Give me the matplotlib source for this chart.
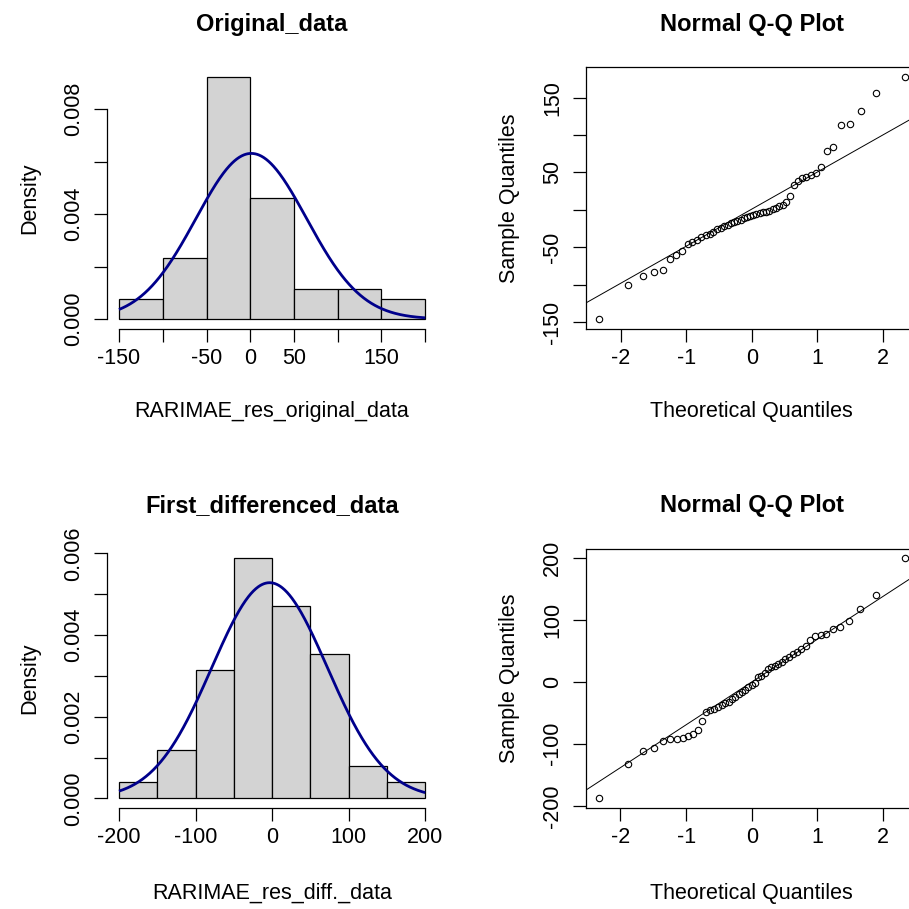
import matplotlib
matplotlib.use("Agg")
import matplotlib.pyplot as plt
import numpy as np
from statistics import NormalDist

plt.rcParams["font.family"] = ["Liberation Sans", "DejaVu Sans"]

# ARIMA residuals, model fitted on the original series
res_original = [
    -146, -101, -88, -83, -80, -66, -60, -55,
    -46, -43, -40, -37, -34, -32, -29, -26, -24, -22, -20, -18,
    -16, -14.5, -13, -11.5, -10, -8.5, -7, -6, -4.5, -3.5, -2.5, -1,
    1.5, 3, 5, 7, 10, 18, 33, 38, 42, 44, 46, 49,
    57, 78.6, 84, 113, 114.5, 132, 156, 178,
]

# ARIMA residuals, model fitted on the first-differenced series
res_diff = [
    -188, -133, -111, -107, -95, -93, -92, -90, -88, -85, -77, -63,
    -48, -46, -44, -41, -38, -35, -32, -28, -24, -20, -17, -13, -9, -5, -2,
    7, 10, 14, 20, 23, 25, 28, 32, 36, 40, 44, 48,
    52, 58, 67, 73, 75, 77, 85, 88, 98,
    117, 140, 199,
]

breaks_original = [-150, -100, -50, 0, 50, 100, 150, 200]
breaks_diff = [-200, -150, -100, -50, 0, 50, 100, 150, 200]

hist_titles = ["Original_data", "First_differenced_data"]
hist_xlabels = ["RARIMAE_res_original_data", "RARIMAE_res_diff._data"]
qq_title = "Normal Q-Q Plot"
qq_xlabel = "Theoretical Quantiles"
qq_ylabel = "Sample Quantiles"
hist_ylabel = "Density"

orig_hist_xticks = [-150, -100, -50, 0, 50, 100, 150, 200]
orig_hist_xticklabels = ["-150", "", "-50", "0", "50", "", "150", ""]
orig_hist_yticks = [0, 0.002, 0.004, 0.006, 0.008]
orig_hist_yticklabels = ["0.000", "", "0.004", "", "0.008"]

diff_hist_xticks = [-200, -100, 0, 100, 200]
diff_hist_xticklabels = ["-200", "-100", "0", "100", "200"]
diff_hist_yticks = [0, 0.001, 0.002, 0.003, 0.004, 0.005, 0.006]
diff_hist_yticklabels = ["0.000", "", "0.002", "", "0.004", "", "0.006"]

qq_xticks = [-2, -1, 0, 1, 2]
qq_xticklabels = ["-2", "-1", "0", "1", "2"]
orig_qq_yticks = [-150, -100, -50, 0, 50, 100, 150]
orig_qq_yticklabels = ["-150", "", "-50", "", "50", "", "150"]
diff_qq_yticks = [-200, -100, 0, 100, 200]
diff_qq_yticklabels = ["-200", "-100", "0", "100", "200"]

# ---------------------------------------------------------------------------
FIG_PX = 909
DPI = 100
TICK_FS = 15.5
LAB_FS = 15.5
TITLE_FS = 17
TICK_LEN = 9.1
LW = 0.9

fig = plt.figure(figsize=(FIG_PX / DPI, FIG_PX / DPI), dpi=DPI)


def px_axes(left, top, right, bottom):
    return fig.add_axes([left / FIG_PX, 1 - bottom / FIG_PX,
                         (right - left) / FIG_PX, (bottom - top) / FIG_PX])


def px_text(x, y, s, **kw):
    fig.text(x / FIG_PX, 1 - y / FIG_PX, s, **kw)


def r_range(lo, hi):
    pad = 0.04 * (hi - lo)
    return lo - pad, hi + pad


def style_ticks(ax, xticks, xlabels, yticks, ylabels):
    ax.set_xticks(xticks)
    ax.set_xticklabels(xlabels)
    ax.set_yticks(yticks)
    ax.set_yticklabels(ylabels)
    ax.tick_params(direction="out", length=TICK_LEN, width=LW,
                   labelsize=TICK_FS, colors="black")
    ax.tick_params(axis="x", pad=4.5)
    ax.tick_params(axis="y", pad=7.5, labelrotation=90)
    for lab in ax.get_yticklabels():
        lab.set_verticalalignment("center")


def draw_hist(ax, data, breaks, xticks, xlabels, yticks, ylabels):
    data = np.asarray(data, dtype=float)
    dens, _ = np.histogram(data, bins=breaks, density=True)
    ax.hist(data, bins=breaks, density=True, color="#D3D3D3",
            edgecolor="black", linewidth=LW)
    mu, sd = data.mean(), data.std(ddof=1)
    xs = np.linspace(breaks[0], breaks[-1], 500)
    ys = np.exp(-0.5 * ((xs - mu) / sd) ** 2) / (sd * np.sqrt(2 * np.pi))
    ax.plot(xs, ys, color="#00008B", lw=2.0, solid_capstyle="butt")
    ax.set_xlim(*r_range(breaks[0], breaks[-1]))
    ax.set_ylim(*r_range(0, dens.max()))
    for side in ("top", "right"):
        ax.spines[side].set_visible(False)
    ax.spines["left"].set_bounds(yticks[0], yticks[-1])
    ax.spines["bottom"].set_bounds(xticks[0], xticks[-1])
    for side in ("left", "bottom"):
        ax.spines[side].set_linewidth(LW)
    style_ticks(ax, xticks, xlabels, yticks, ylabels)


def draw_qq(ax, data, yticks, ylabels):
    sample = np.sort(np.asarray(data, dtype=float))
    n = len(sample)
    a = 3 / 8 if n <= 10 else 0.5
    probs = (np.arange(1, n + 1) - a) / (n + 1 - 2 * a)
    nd = NormalDist()
    theo = np.array([nd.inv_cdf(p) for p in probs])
    ax.plot(theo, sample, "o", mfc="none", mec="black", ms=4.6, mew=0.8)
    q1, q3 = np.quantile(sample, [0.25, 0.75])
    z1, z3 = nd.inv_cdf(0.25), nd.inv_cdf(0.75)
    slope = (q3 - q1) / (z3 - z1)
    intercept = q1 - slope * z1
    ax.axline((0, intercept), slope=slope, color="black", lw=0.7)
    ax.set_xlim(*r_range(theo.min(), theo.max()))
    ax.set_ylim(*r_range(sample.min(), sample.max()))
    for sp in ax.spines.values():
        sp.set_linewidth(LW)
    style_ticks(ax, qq_xticks, qq_xticklabels, yticks, ylabels)


# plot regions (pixels): left column / right column, top row / bottom row
COLS = [(106.75, 437.5), (586.3, 917.1)]
ROWS = [(67.0, 328.7), (548.6, 808.0)]
ROW_SHIFT = ROWS[1][0] - ROWS[0][0]

ax_h1 = px_axes(COLS[0][0], ROWS[0][0], COLS[0][1], ROWS[0][1])
draw_hist(ax_h1, res_original, breaks_original, orig_hist_xticks,
          orig_hist_xticklabels, orig_hist_yticks, orig_hist_yticklabels)

ax_q1 = px_axes(COLS[1][0], ROWS[0][0], COLS[1][1], ROWS[0][1])
draw_qq(ax_q1, res_original, orig_qq_yticks, orig_qq_yticklabels)

ax_h2 = px_axes(COLS[0][0], ROWS[1][0], COLS[0][1], ROWS[1][1])
draw_hist(ax_h2, res_diff, breaks_diff, diff_hist_xticks,
          diff_hist_xticklabels, diff_hist_yticks, diff_hist_yticklabels)

ax_q2 = px_axes(COLS[1][0], ROWS[1][0], COLS[1][1], ROWS[1][1])
draw_qq(ax_q2, res_diff, diff_qq_yticks, diff_qq_yticklabels)

# titles and axis labels
for r in range(2):
    dy = r * ROW_SHIFT
    top, bot = ROWS[r]
    cx_l = sum(COLS[0]) / 2
    cx_r = 751.7
    px_text(cx_l, 30.5 + dy, hist_titles[r], ha="center", va="baseline",
            fontsize=TITLE_FS, fontweight="bold")
    px_text(cx_r, 30.5 + dy, qq_title, ha="center", va="baseline",
            fontsize=TITLE_FS, fontweight="bold")
    px_text(cx_l, 417 + dy, hist_xlabels[r], ha="center", va="baseline",
            fontsize=LAB_FS)
    px_text(cx_r, 417 + dy, qq_xlabel, ha="center", va="baseline",
            fontsize=LAB_FS)
    cy = (top + bot) / 2
    px_text(30, cy, hist_ylabel, ha="center", va="center", rotation=90,
            fontsize=LAB_FS)
    px_text(510, cy, qq_ylabel, ha="center", va="center", rotation=90,
            fontsize=LAB_FS)

fig.savefig("out.png", dpi=DPI)
